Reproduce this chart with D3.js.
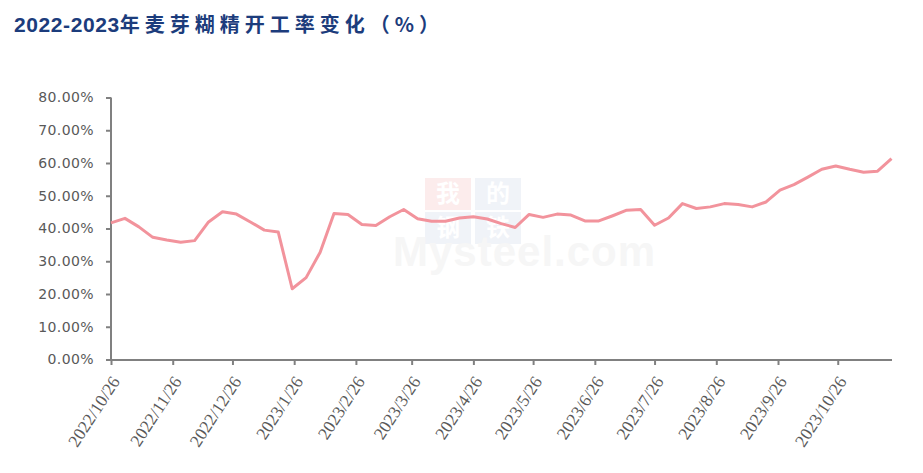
<!DOCTYPE html>
<html><head><meta charset="utf-8">
<script src="https://cdn.jsdelivr.net/npm/d3@7/dist/d3.min.js"></script>
<style>
html,body{margin:0;padding:0;background:#fff;}
svg{display:block;}
</style></head>
<body><svg id="chart" width="923" height="473"></svg>
<script>
const titleLatin = "2022-2023";
const titleCJK = "年麦芽糊精开工率变化（%）";
const dates = ["2022-10-26","2022-11-02","2022-11-09","2022-11-16","2022-11-23","2022-11-30","2022-12-07","2022-12-14","2022-12-21","2022-12-28",
"2023-01-04","2023-01-11","2023-01-18","2023-01-25","2023-02-01","2023-02-08","2023-02-15","2023-02-22","2023-03-01","2023-03-08",
"2023-03-15","2023-03-22","2023-03-29","2023-04-05","2023-04-12","2023-04-19","2023-04-26","2023-05-03","2023-05-10","2023-05-17",
"2023-05-24","2023-05-31","2023-06-07","2023-06-14","2023-06-21","2023-06-28","2023-07-05","2023-07-12","2023-07-19","2023-07-26",
"2023-08-02","2023-08-09","2023-08-16","2023-08-23","2023-08-30","2023-09-06","2023-09-13","2023-09-20","2023-09-27","2023-10-04",
"2023-10-11","2023-10-18","2023-10-25","2023-11-01","2023-11-08","2023-11-15","2023-11-22"];
const rates = [41.7,43.1,40.5,37.3,36.5,35.8,36.3,42.0,45.1,44.4,
42.0,39.5,38.9,21.6,25.0,32.7,44.6,44.3,41.2,40.9,
43.6,45.8,43.0,42.2,42.2,43.2,43.6,42.9,41.5,40.3,
44.3,43.4,44.4,44.1,42.3,42.3,43.9,45.6,45.8,41.0,
43.2,47.6,46.1,46.6,47.6,47.3,46.6,48.1,51.7,53.4,
55.7,58.1,59.1,58.1,57.2,57.5,61.3];
const xTickDates = ["2022-10-26","2022-11-26","2022-12-26","2023-01-26","2023-02-26","2023-03-26","2023-04-26","2023-05-26","2023-06-26","2023-07-26","2023-08-26","2023-09-26","2023-10-26"];
const xTickLabels = ["2022/10/26","2022/11/26","2022/12/26","2023/1/26","2023/2/26","2023/3/26","2023/4/26","2023/5/26","2023/6/26","2023/7/26","2023/8/26","2023/9/26","2023/10/26"];
const yTicks = [0,10,20,30,40,50,60,70,80];

const parse = d3.utcParse("%Y-%m-%d");
const data = dates.map((d,i)=>({date:parse(d), v:rates[i]}));
const svg = d3.select("#chart");
svg.append("rect").attr("width",923).attr("height",473).attr("fill","#fff");

// title
const t = svg.append("text").attr("x",14).attr("y",32)
  .attr("fill","#1c3c7c").attr("font-weight","bold");
t.append("tspan").attr("font-family","'Liberation Sans', Arial, sans-serif").attr("font-size",21)
  .attr("letter-spacing",0.6).text(titleLatin);
t.append("tspan").attr("font-family","'Noto Sans CJK SC', sans-serif").attr("font-size",20)
  .attr("letter-spacing",5).text(titleCJK);

// watermark
const wm = svg.append("g").attr("opacity",0.75);
const cells = [["我",425,178,"#fbe6e6"],["的",475,178,"#eceff6"],["钢",425,212,"#eceff6"],["铁",475,212,"#eceff6"]];
cells.forEach(c=>{
  wm.append("rect").attr("x",c[1]).attr("y",c[2]).attr("width",46).attr("height",32).attr("fill",c[3]);
  wm.append("text").attr("x",c[1]+23).attr("y",c[2]+24).attr("text-anchor","middle")
    .attr("font-family","'Noto Sans CJK SC', sans-serif").attr("font-weight","bold").attr("font-size",24)
    .attr("fill","#fff").text(c[0]);
});
wm.append("text").attr("x",393).attr("y",266).attr("font-family","'Liberation Sans', Arial, sans-serif")
  .attr("font-weight","bold").attr("font-size",42).attr("fill","#f3f3f3").attr("letter-spacing",1).text("Mysteel.com");

const x = d3.scaleUtc().domain([data[0].date, data[data.length-1].date]).range([111, 891.5]);
const y = d3.scaleLinear().domain([0,80]).range([359.5, 97.5]);

// y axis
const yAxis = svg.append("g").attr("transform","translate(111,0)")
  .call(d3.axisLeft(y).tickValues(yTicks).tickSize(5).tickFormat(d=>d.toFixed(2)+"%").tickPadding(12));
yAxis.selectAll("path,line").attr("stroke","#808080").attr("stroke-width",2);
yAxis.select(".domain").attr("d","M0,97.5V360");
yAxis.selectAll("text").attr("font-family","'DejaVu Sans', sans-serif").attr("font-size",14)
  .attr("letter-spacing",0.4).attr("fill","#595959");

// x axis
const xAxis = svg.append("g").attr("transform","translate(0,360)")
  .call(d3.axisBottom(x).tickValues(xTickDates.map(parse)).tickSize(5).tickSizeOuter(0)
    .tickFormat((d,i)=>xTickLabels[i]));
xAxis.selectAll("path,line").attr("stroke","#808080").attr("stroke-width",2);
xAxis.select(".domain").attr("d","M110,0H892");
xAxis.selectAll("text").attr("font-family","'Liberation Serif', 'Times New Roman', serif").attr("font-size",17.5)
  .attr("fill","#595959").attr("text-anchor","end")
  .attr("transform","translate(4,18) rotate(-57)").attr("y",0).attr("dy","0.35em");

// line
svg.append("path").datum(data).attr("fill","none").attr("stroke","#f2939c").attr("stroke-width",3)
  .attr("stroke-linejoin","round")
  .attr("d", d3.line().x(d=>x(d.date)).y(d=>y(d.v)));
</script></body></html>
